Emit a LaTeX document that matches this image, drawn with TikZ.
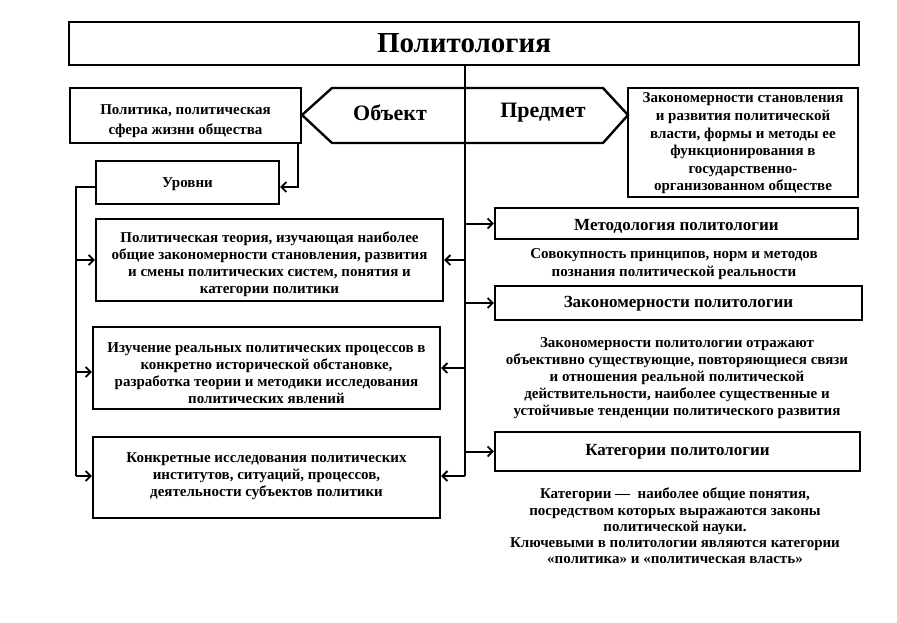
\documentclass[tikz,border=0pt]{standalone}
\usepackage{fontspec}
\setmainfont{Liberation Serif}
\usetikzlibrary{arrows.meta}
\newcommand\bodyf{\bfseries\fontsize{15}{17}\selectfont}
\newcommand\headf{\bfseries\fontsize{17}{19}\selectfont}
\begin{document}
\begin{tikzpicture}[x=1pt,y=-1pt,
  box/.style={draw, line width=2.4pt, inner sep=2pt, align=center, font=\bodyf},
  hbox/.style={box, font=\headf},
  txt/.style={align=center, inner sep=0pt, font=\bodyf},
  link/.style={line width=2pt},
  arr/.style={link, -{Straight Barb[length=5pt,width=10pt,line width=1.8pt]}}]
\fill[white] (0,0) rectangle (897,623);
\useasboundingbox (0,0) rectangle (897,623);

% title
\node[box, minimum width=790pt, minimum height=43pt, font=\bfseries\fontsize{29}{31}\selectfont] (title) at (464,43.5) {Политология};

% hexagon Объект / Предмет
\coordinate (hl) at (302,115);
\coordinate (htl) at (332,88);
\coordinate (htr) at (603,88);
\coordinate (hr) at (628,115);
\coordinate (hbr) at (603,143);
\coordinate (hbl) at (332,143);
\draw[line width=2.4pt, line join=miter] (hl) -- (htl) -- (htr) -- (hr) -- (hbr) -- (hbl) -- cycle;
\node[font=\bfseries\fontsize{22}{24}\selectfont, inner sep=0pt] (ob) at (390,113) {Объект};
\node[font=\bfseries\fontsize{22}{24}\selectfont, inner sep=0pt] (pr) at (543,113) {Предмет};

% top boxes
\node[box, minimum width=231pt, minimum height=55pt] (pol) at (185.5,115.5) {};
\node[txt, font=\bfseries\fontsize{15}{20}\selectfont] (polt) at (185.5,121) {Политика, политическая\\сфера жизни общества};
\node[box, minimum width=230pt, minimum height=109pt] (pred) at (743,142.5) {};
\node[txt, font=\bfseries\fontsize{15}{17.6}\selectfont] (predt) at (743,143.5) {Закономерности становления\\и развития политической\\власти, формы и методы ее\\функционирования в\\государственно-\\организованном обществе};

% left column
\node[box, minimum width=183pt, minimum height=43pt] (urov) at (187.5,182.5) {};
\node[txt] (urovt) at (187.5,184) {Уровни};
\node[box, minimum width=347pt, minimum height=82pt] (theory) at (269.5,260) {};
\node[txt] (theoryt) at (269.5,264) {Политическая теория, изучающая наиболее\\общие закономерности становления, развития\\и смены политических систем, понятия и\\категории политики};
\node[box, minimum width=347pt, minimum height=82pt] (izuch) at (266.5,368) {};
\node[txt] (izucht) at (266.5,373) {Изучение реальных политических процессов в\\конкретно исторической обстановке,\\разработка теории и методики исследования\\политических явлений};
\node[box, minimum width=347pt, minimum height=81pt] (konkr) at (266.5,477.5) {};
\node[txt] (konkrt) at (266.5,476) {Конкретные исследования политических\\институтов, ситуаций, процессов,\\деятельности субъектов политики};

% right column
\node[hbox, minimum width=363pt, minimum height=31pt] (metod) at (676.5,223.5) {};
\node[txt, font=\headf] (metodt) at (676.5,226) {Методология политологии};
\node[txt, font=\bfseries\fontsize{15}{18.5}\selectfont] (sovok) at (674,264) {Совокупность принципов, норм и методов\\познания политической реальности};
\node[hbox, minimum width=367pt, minimum height=34pt] (zak) at (678.5,303) {};
\node[txt, font=\headf] (zakh) at (678.5,304) {Закономерности политологии};
\node[txt] (zakt) at (677,378) {Закономерности политологии отражают\\объективно существующие, повторяющиеся связи\\и отношения реальной политической\\действительности, наиболее существенные и\\устойчивые тенденции политического развития};
\node[hbox, minimum width=365pt, minimum height=39pt] (kat) at (677.5,451.5) {};
\node[txt, font=\headf] (kath) at (677.5,452) {Категории политологии};
\node[txt, font=\bfseries\fontsize{15}{16.2}\selectfont] (katt) at (675,526) {Категории ---\ \ наиболее общие понятия,\\посредством которых выражаются законы\\политической науки.\\Ключевыми в политологии являются категории\\«политика» и «политическая власть»};

% central spine
\coordinate (spine) at (465,65);
\coordinate (spineend) at (465,476);
\draw[link] (spine) -- (spineend);
\draw[arr] (spine |- theory.east) -- (theory.east);
\draw[arr] (spine |- izuch.east) -- (izuch.east);
\draw[arr] (spineend) -- (spineend -| konkr.east);
\draw[arr] (spine |- metod.west) -- (metod.west);
\draw[arr] (spine |- zak.west) -- (zak.west);
\draw[arr] (spine |- kat.west) -- (kat.west);

% politics -> levels
\draw[arr] ([xshift=-4pt]pol.south east) |- ([yshift=-4.5pt]urov.east);

% left spine
\coordinate (lsp) at (76,187);
\coordinate (lspend) at (76,476);
\draw[link] (urov.west |- lsp) -- (lsp) -- (lspend);
\draw[arr] (lsp |- theory.east) -- (theory.west |- theory.east);
\draw[arr] (lsp |- 0,372) -- (izuch.west |- 0,372);
\draw[arr] (lspend) -- (lspend -| konkr.west);
\end{tikzpicture}
\end{document}
